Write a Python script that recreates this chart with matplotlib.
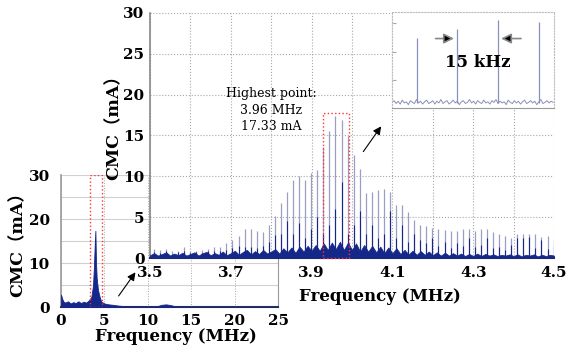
import matplotlib
matplotlib.use("Agg")
import matplotlib.pyplot as plt
from matplotlib.patches import Rectangle
import numpy as np

plt.rcParams['font.family'] = ['DejaVu Serif', 'Noto Sans CJK SC']
plt.rcParams['font.weight'] = 'bold'
plt.rcParams['axes.labelweight'] = 'bold'

# ---------------- data ----------------
# overview spectrum 0-25 MHz
overview_freq = [0, 0.15, 0.3, 0.5, 0.8, 1.1, 1.4, 1.7, 2.0, 2.3, 2.6, 2.9, 3.2, 3.5, 3.69,
                 3.8, 3.88, 3.96, 4.03, 4.11, 4.26, 4.45, 4.65, 5.0, 5.5, 6.0, 6.5, 7.0, 8.0,
                 9.0, 10.0, 11.0, 11.6, 12.1, 12.6, 13.2, 14.0, 16.0, 20.0, 25.0]
overview_cmc = [2.8, 1.8, 1.2, 1.0, 1.3, 0.8, 1.1, 0.9, 1.3, 0.9, 1.2, 1.0, 1.5, 2.3, 5.0,
                9.5, 14.0, 17.33, 10.3, 6.6, 3.9, 2.3, 1.2, 0.8, 0.6, 0.5, 0.35, 0.25, 0.15,
                0.1, 0.1, 0.15, 0.5, 0.6, 0.45, 0.15, 0.08, 0.05, 0.03, 0.03]
overview_xticks = [0, 5, 10, 15, 20, 25]
overview_yticks = [0, 10, 20, 30]

# zoomed spectrum 3.5-4.5 MHz: harmonic spikes (15 kHz apart)
spike_freq = [3.509, 3.524, 3.539, 3.554, 3.569, 3.584, 3.599, 3.614, 3.629, 3.644,
              3.659, 3.674, 3.689, 3.704, 3.719, 3.734, 3.749, 3.764, 3.779, 3.794,
              3.809, 3.824, 3.839, 3.854, 3.869, 3.884, 3.899, 3.914, 3.929, 3.944,
              3.959, 3.974, 3.989, 4.004, 4.019, 4.034, 4.049, 4.064, 4.079, 4.094,
              4.109, 4.124, 4.139, 4.154, 4.169, 4.184, 4.199, 4.214, 4.229, 4.244,
              4.259, 4.274, 4.289, 4.304, 4.319, 4.334, 4.349, 4.364, 4.379, 4.394,
              4.409, 4.424, 4.439, 4.454, 4.469, 4.484, 4.499]
spike_peak = [1.07, 1.0, 1.1, 0.8, 0.9, 1.3, 0.8, 0.9, 1.0, 1.1,
              1.3, 1.3, 1.8, 2.2, 2.7, 3.6, 3.5, 3.3, 3.2, 4.0,
              5.1, 6.7, 8.1, 9.6, 10.0, 9.5, 10.4, 10.8, 13.6, 15.6,
              17.33, 16.9, 14.9, 12.6, 10.9, 8.0, 8.1, 8.3, 8.4, 8.1,
              6.5, 6.5, 5.6, 4.6, 4.0, 3.9, 3.7, 3.6, 3.4, 3.3,
              3.3, 3.5, 3.6, 3.3, 3.6, 3.6, 3.2, 2.9, 2.7, 2.5,
              2.9, 3.0, 3.0, 2.9, 2.6, 2.7, 2.3]
spike_avg = [0.7, 0.6, 0.8, 0.5, 0.7, 0.9, 0.6, 0.7, 0.6, 0.8,
             0.9, 0.8, 1.0, 1.2, 1.5, 1.3, 1.4, 1.2, 1.5, 2.0,
             2.8, 3.0, 4.5, 3.0, 4.3, 2.5, 3.5, 5.0, 3.0, 4.0,
             6.0, 9.3, 3.0, 4.0, 5.8, 3.0, 4.0, 2.5, 3.0, 5.8,
             2.5, 4.0, 2.0, 3.0, 2.2, 1.8, 2.5, 1.5, 2.0, 1.2,
             1.8, 1.5, 2.4, 1.3, 1.6, 2.5, 1.2, 1.4, 1.0, 1.6,
             2.5, 2.4, 2.6, 1.2, 2.2, 1.1, 1.5]
noise_freq = np.round(np.arange(3.50, 4.5001, 0.01), 2)
noise_cmc = [0.35, 0.6, 0.3, 0.5, 0.7, 0.3, 0.55, 0.35, 0.65, 0.3,
             0.5, 0.7, 0.3, 0.6, 0.75, 0.35, 0.6, 0.4, 0.8, 0.35,
             0.6, 0.9, 0.4, 0.75, 1.0, 0.45, 0.85, 0.5, 1.0, 0.55,
             0.8, 1.1, 0.55, 1.2, 0.7, 1.3, 0.65, 1.4, 0.8, 1.5,
             0.9, 1.6, 0.9, 1.8, 1.0, 1.9, 1.1, 2.0, 1.0, 1.9,
             1.0, 1.8, 0.8, 1.6, 0.8, 1.5, 0.7, 1.4, 0.6, 1.3,
             0.6, 1.2, 0.5, 1.0, 0.45, 0.9, 0.4, 0.85, 0.4, 0.8,
             0.35, 0.7, 0.3, 0.65, 0.3, 0.6, 0.3, 0.55, 0.25, 0.5,
             0.25, 0.55, 0.25, 0.5, 0.3, 0.45, 0.25, 0.4, 0.3, 0.45,
             0.25, 0.45, 0.2, 0.4, 0.3, 0.45, 0.2, 0.4, 0.25, 0.4, 0.3]
zoom_xticks = [3.5, 3.7, 3.9, 4.1, 4.3, 4.5]
zoom_xtick_labels = ['3.5', '3.7', '3.9', '4.1', '4.3', '4.5']
zoom_yticks = [0, 5, 10, 15, 20, 25, 30]

# inset detail (kHz offset scale)
inset_spike_khz = [9.1, 24.0, 39.1, 54.1]
inset_spike_amp = [12.4, 14.0, 15.6, 15.2]
inset_noise = [1.0, 1.3, 0.8, 1.2, 0.7, 1.4, 0.9, 1.1, 0.6, 1.3, 1.0, 0.8, 1.5, 0.9, 1.2, 0.7, 1.1, 1.4, 0.8, 1.0,
               1.3, 0.7, 1.2, 0.9, 1.5, 0.8, 1.1, 1.3, 0.7, 1.0, 1.4, 0.9, 1.2, 0.6, 1.1, 1.3, 0.8, 1.0, 1.5, 0.9,
               1.2, 0.7, 1.3, 1.0, 0.8, 1.4, 0.9, 1.1, 0.7, 1.3, 1.0, 1.5, 0.8, 1.2, 0.9, 1.1, 0.6, 1.4, 1.0, 0.8,
               1.3, 0.9, 1.2, 0.7, 1.1, 1.4, 0.8, 1.0, 1.3, 0.9, 1.2, 0.6, 1.1, 1.5, 0.8, 1.0, 1.3, 0.9, 1.2, 1.0]
inset_noise_khz = np.arange(len(inset_noise)) * 0.75

highest_text = "Highest point:\n3.96 MHz\n17.33 mA"
ylabel_text = "CMC\uff08mA\uff09"
xlabel_text = "Frequency (MHz)"

NAVY = '#16278a'
SPIKE = '#9a9dc6'
GRID = '#a8a8a8'

fig = plt.figure(figsize=(5.67, 3.53), dpi=100)

# ---------------- overview axes ----------------
axs = fig.add_axes([0.1076, 0.1303, 0.3827, 0.3739], zorder=1)
axs.fill_between(overview_freq, 0, overview_cmc, color=NAVY, lw=0.6, zorder=3)
axs.set_xlim(0, 25)
axs.set_ylim(0, 30)
axs.set_xticks(overview_xticks)
axs.set_yticks(overview_yticks)
axs.set_yticks([5, 15, 25], minor=True)
axs.grid(True, axis='y', which='both', color='#d0d0d0', lw=0.8, ls='-')
axs.grid(True, axis='x', which='major', color=GRID, lw=0.7, ls=':')
axs.tick_params(which='both', length=0, labelsize=11)
axs.tick_params(axis='y', pad=8)
axs.tick_params(axis='x', pad=5)
axs.spines['top'].set_visible(False)
axs.spines['right'].set_color('#999999')
axs.spines['left'].set_color('#999999')
axs.spines['left'].set_linewidth(1.2)
axs.spines['bottom'].set_color('#333333')
axs.spines['bottom'].set_linewidth(1.5)
axs.add_patch(Rectangle((3.3, 0), 1.46, 30, fill=False, ec='#ff3333', ls=':', lw=1.0, zorder=4))
axs.set_xlabel(xlabel_text, fontsize=12, fontweight='bold')
axs.xaxis.set_label_coords(0.53, -0.227)
axs.xaxis.label.set_va('center')
axs.set_ylabel(ylabel_text, fontsize=12.5, fontweight='bold')
axs.yaxis.set_label_coords(-0.2, 0.508)
axs.yaxis.label.set_va('center')

# ---------------- zoomed axes ----------------
ax = fig.add_axes([0.2646, 0.2691, 0.7125, 0.6941], zorder=2)
ax.set_facecolor('white')
ax.vlines(spike_freq, 0, spike_peak, color=SPIKE, lw=0.9, zorder=2)
ax.fill_between(noise_freq, 0, noise_cmc, color=NAVY, lw=0.5, zorder=3)
ax.vlines(spike_freq, 0, spike_avg, color=NAVY, lw=0.8, zorder=3)
ax.set_xlim(3.5, 4.5)
ax.set_ylim(0, 30)
ax.set_xticks(zoom_xticks)
ax.set_xticklabels(zoom_xtick_labels)
ax.set_xticks([3.6, 3.8, 4.0, 4.2, 4.4], minor=True)
ax.set_yticks(zoom_yticks)
ax.grid(True, which='both', color=GRID, lw=0.8, ls=':')
ax.set_axisbelow(True)
ax.tick_params(which='both', length=0, labelsize=11)
ax.tick_params(axis='y', pad=4)
ax.tick_params(axis='x', pad=6)
ax.spines['top'].set_visible(False)
ax.spines['right'].set_visible(False)
ax.spines['left'].set_color('#888888')
ax.spines['left'].set_linewidth(1.2)
ax.spines['bottom'].set_color('#333333')
ax.spines['bottom'].set_linewidth(1.5)
ax.add_patch(Rectangle((3.9275, 0), 0.064, 17.8, fill=False, ec='#ff3333', ls=':', lw=1.0,
                       zorder=5, clip_on=False))
ax.text(3.80, 18.1, highest_text, ha='center', va='center', fontsize=9,
        fontweight='normal', linespacing=1.35, zorder=6)
ax.annotate('', xy=(4.076, 16.4), xytext=(4.024, 12.75),
            arrowprops=dict(arrowstyle='-|>', color='black', lw=0.8, mutation_scale=12),
            zorder=6)
ax.annotate('', xy=(8.76, 8.4), xytext=(6.45, 2.0), xycoords=axs.transData,
            textcoords=axs.transData, annotation_clip=False,
            arrowprops=dict(arrowstyle='-|>', color='black', lw=0.8, mutation_scale=12),
            zorder=6)
ax.set_xlabel(xlabel_text, fontsize=12, fontweight='bold')
ax.xaxis.set_label_coords(0.569, -0.159)
ax.xaxis.label.set_va('center')
ax.set_ylabel(ylabel_text, fontsize=12.5, fontweight='bold')
ax.yaxis.set_label_coords(-0.089, 0.551)
ax.yaxis.label.set_va('center')

# ---------------- inset ----------------
axi = fig.add_axes([0.6914, 0.694, 0.2857, 0.272], zorder=3)
axi.set_facecolor('white')
axi.plot(inset_noise_khz, inset_noise, color='#8a90b8', lw=0.7)
axi.vlines(inset_spike_khz, 0.8, inset_spike_amp, color='#8a90b8', lw=0.9)
axi.set_xlim(0, 59.6)
axi.set_ylim(0, 17)
axi.set_xticks([])
axi.set_yticks([5, 10, 15])
axi.tick_params(axis='y', direction='in', length=3, color='#aaaaaa', labelleft=False)
for s in ['top', 'right', 'left']:
    axi.spines[s].set_color('#bbbbbb')
    axi.spines[s].set_linestyle(':')
    axi.spines[s].set_linewidth(0.8)
axi.spines['bottom'].set_color('#999999')
axi.spines['bottom'].set_linewidth(0.8)
axi.annotate('', xy=(23.8, 12.3), xytext=(15.0, 12.3),
             arrowprops=dict(arrowstyle='-|>', ec='#888888', fc='black', lw=1.2, mutation_scale=15))
axi.annotate('', xy=(39.1, 12.3), xytext=(48.5, 12.3),
             arrowprops=dict(arrowstyle='-|>', ec='#888888', fc='black', lw=1.2, mutation_scale=15))
axi.text(31.6, 8.1, "15 kHz", ha='center', va='center', fontsize=12, fontweight='bold')

fig.savefig('out.png', dpi=100)
